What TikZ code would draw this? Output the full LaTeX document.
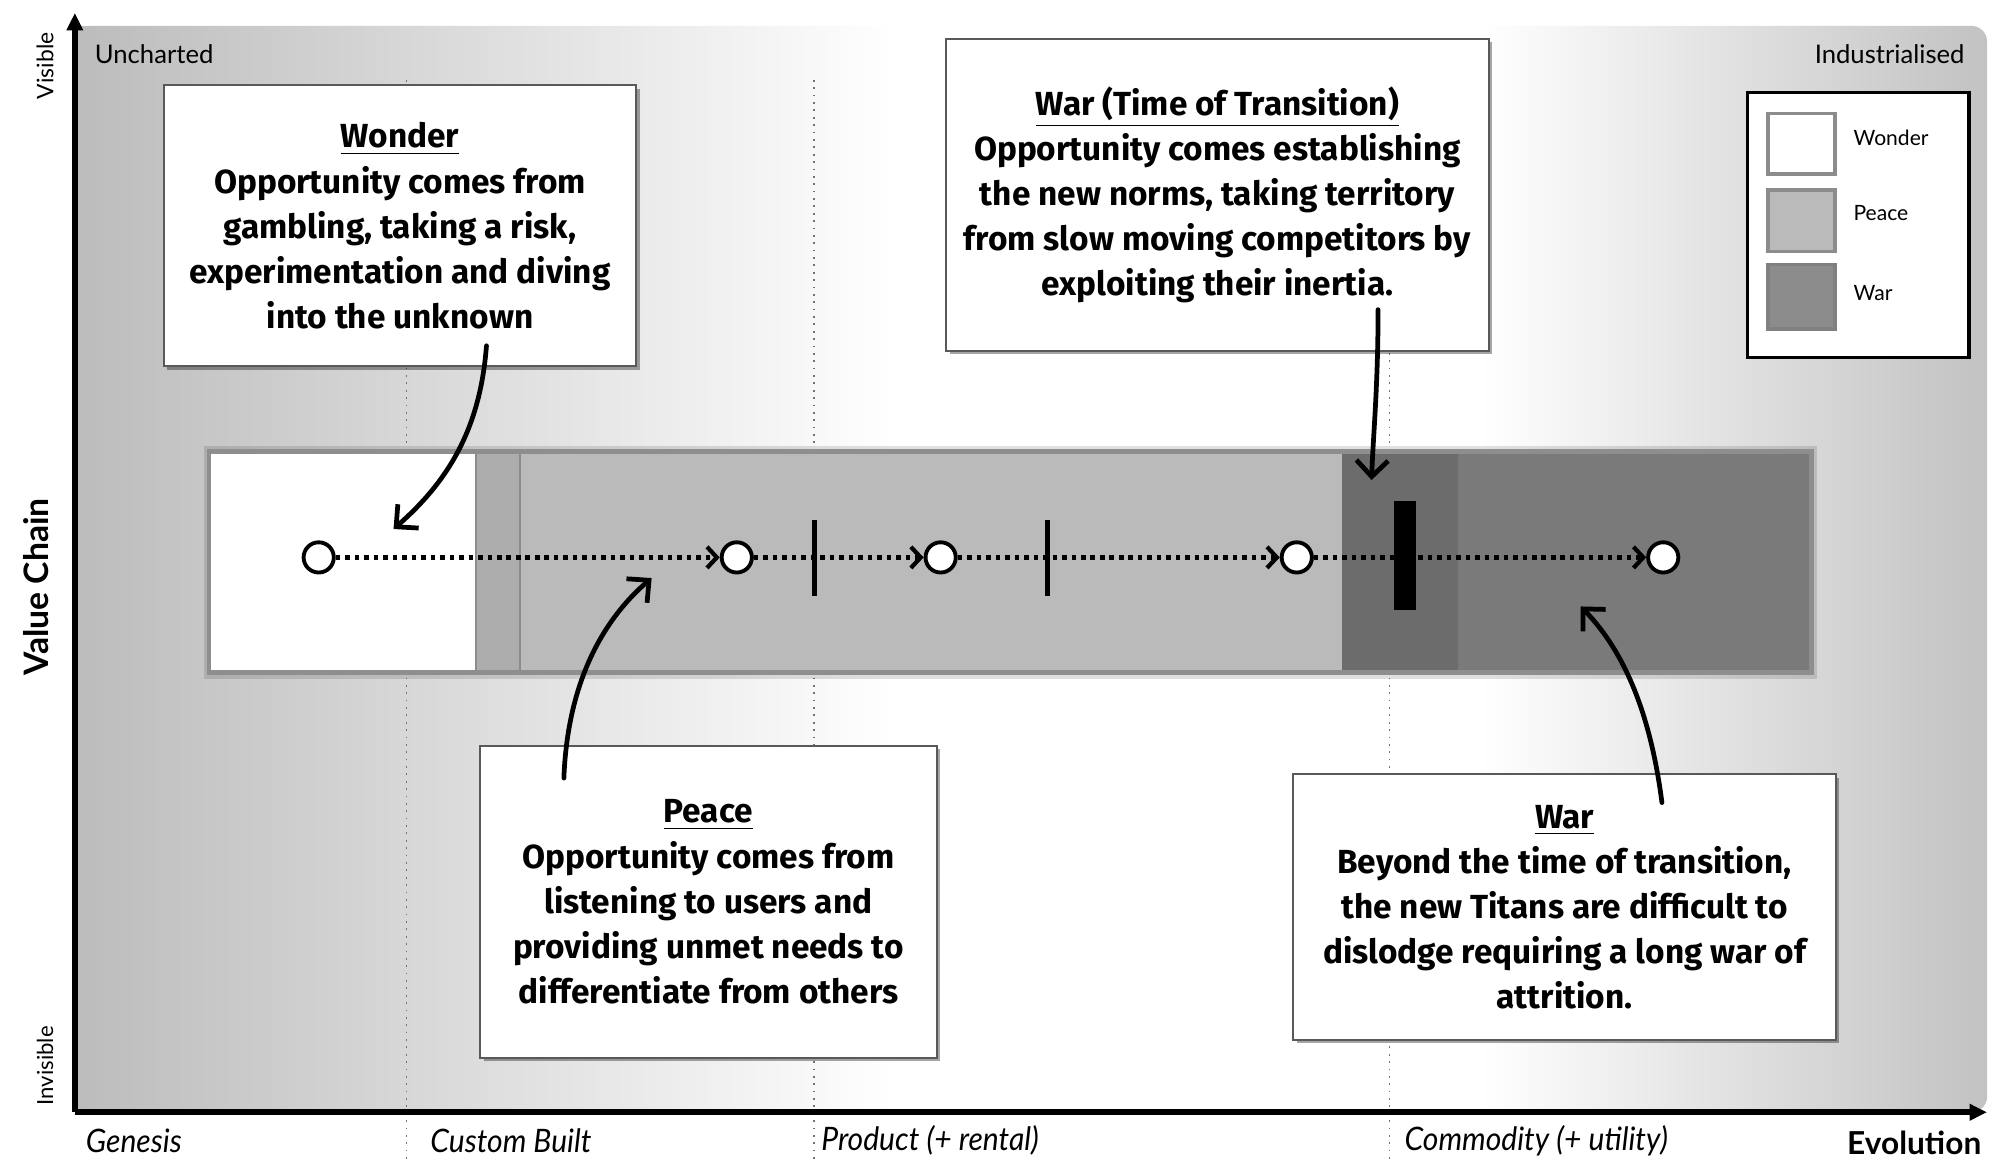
\documentclass[tikz,border=0pt]{standalone}
\usepackage{fontspec}
\setmainfont{Lato}
\newfontfamily\comic{Fira Sans}
\newfontfamily\gillc{Lato}[FakeStretch=0.93]
\usetikzlibrary{arrows.meta,shadows}
\definecolor{bgL}{HTML}{B9B9B9}
\definecolor{bgR}{HTML}{C2C2C2}
\definecolor{peaceC}{HTML}{BABABA}
\definecolor{bandC}{HTML}{ADADAD}
\definecolor{warTC}{HTML}{6C6C6C}
\definecolor{warC}{HTML}{7A7A7A}
\definecolor{barEdge}{HTML}{8E8E8E}
\pgfdeclarehorizontalshading{bgshade}{100bp}{color(0bp)=(bgL); color(25bp)=(bgL); color(47bp)=(white); color(62bp)=(white); color(75bp)=(bgR); color(100bp)=(bgR)}
\begin{document}
\begin{tikzpicture}[x=0.012903cm,y=-0.012903cm,
  axisline/.style={line width=1.6pt,-{Triangle[length=5pt,width=4.5pt]}},
  gridline/.style={line width=0.45pt,black!55,dash pattern=on 0.5pt off 1.6pt},
  textbox/.style={draw=black!65,line width=0.5pt,fill=white,inner sep=0pt,align=center,
     drop shadow={shadow xshift=1pt,shadow yshift=-1pt,opacity=0.35,fill=black},
     font=\comic\bfseries\fontsize{9.5}{12.85}\selectfont},
  stage/.style={circle,draw,line width=1.1pt,fill=white,minimum size=8.6pt,inner sep=0pt},
  dotarrow/.style={line width=1.2pt,dash pattern=on 1.3pt off 1.4pt,
     -{Straight Barb[length=2.8pt,width=6pt]}},
  curvarrow/.style={line width=1.35pt,line cap=round,-{Straight Barb[length=4.6pt,width=9pt]}},
  swatch/.style={draw=black!45,line width=1.1pt,minimum width=19.1pt,inner sep=0pt},
  lbl/.style={inner sep=0pt,font=\fontsize{7.3}{8}\selectfont},
  evo/.style={inner sep=0pt,font=\gillc\itshape\fontsize{9.2}{10}\selectfont},
  ]
\useasboundingbox (0,0) rectangle (1550,899);
% background
\begin{scope}
  \clip (60,0) rectangle (1560,899);
  \shade[shading=bgshade,rounded corners=4.5pt] (30,20) rectangle (1540,862);
\end{scope}
% grid lines
\foreach \gx in {315,631,1077} \draw[gridline] (\gx,62) -- (\gx,900);
% axes
\coordinate (origin) at (58,862);
\coordinate (ytop) at (58,10);
\coordinate (xend) at (1540,862);
\draw[axisline] (origin) -- (ytop);
\draw[axisline] (origin) -- (xend);
% axis labels
\node[lbl,rotate=90,font=\fontsize{6.5}{7}\selectfont] (visible) at (35,51) {Visible};
\node[lbl,rotate=90,font=\fontsize{6.3}{7}\selectfont] (invisible) at (35,826) {Invisible};
\node[lbl,rotate=90,font=\bfseries\fontsize{9.6}{10}\selectfont] (vchain) at (28,455) {Value Chain};
\node[lbl,anchor=west] (unch) at (73,42) {Uncharted};
\node[lbl,anchor=east] (indus) at (1523,42) {Industrialised};
\node[evo,anchor=west] (gen) at (66,884) {Genesis};
\node[evo,anchor=west] (cust) at (333,884) {Custom Built};
\node[evo,anchor=west] (prod) at (636,884) {Product (+ rental)};
\node[evo,anchor=west] (comm) at (1088,884) {Commodity (+ utility)};
\node[lbl,anchor=east,font=\bfseries\fontsize{9}{10}\selectfont] (evol) at (1536,886) {Evolution};
% main bar
\fill[black,opacity=0.12] (158,346) rectangle (1408,526);
\fill[white] (161,349) rectangle (369,522);
\fill[bandC] (369,349) rectangle (403,522);
\fill[peaceC] (403,349) rectangle (1040,522);
\fill[warTC] (1040,349) rectangle (1130,522);
\fill[warC] (1130,349) rectangle (1405,522);
\draw[black!45,line width=0.6pt] (369,351) -- (369,520) (403,351) -- (403,520);
\draw[barEdge,line width=1.3pt] (162,350) rectangle (1404,521);
% stages
\node[stage] (c1) at (247,432) {};
\node[stage] (c2) at (571,432) {};
\node[stage] (c3) at (729,432) {};
\node[stage] (c4) at (1005,432) {};
\node[stage] (c5) at (1289,432) {};
\draw[dotarrow] (c1) -- (c2);
\draw[dotarrow] (c2) -- (c3);
\draw[dotarrow] (c3) -- (c4);
\draw[dotarrow] (c4) -- (c5);
% markers
\fill[black] (629,403) rectangle (633,462);
\fill[black] (810,403) rectangle (814,462);
\fill[black] (1080,388) rectangle (1097,473);
% text boxes
\node[textbox,minimum width=134.4pt,minimum height=80pt] (wonderbox) at (310,175)
 {\underline{Wonder}\\Opportunity comes from\\gambling, taking a risk,\\experimentation and diving\\into the unknown};
\node[textbox,minimum width=154.5pt,minimum height=88.8pt] (wartbox) at (943.5,151)
 {\underline{War (Time of Transition)}\\Opportunity comes establishing\\the new norms, taking territory\\from slow moving competitors by\\exploiting their inertia.};
\node[textbox,minimum width=130pt,minimum height=88.8pt] (peacebox) at (549,699)
 {\underline{Peace}\\Opportunity comes from\\listening to users and\\providing unmet needs to\\differentiate from others};
\node[textbox,minimum width=154.5pt,minimum height=75.6pt] (warbox) at (1212.5,703)
 {\underline{War}\\Beyond the time of transition,\\the new Titans are difficult to\\dislodge requiring a long war of\\attrition.};
% curved arrows
\coordinate (wS) at (377,268); \coordinate (wE) at (305,410);
\coordinate (pS) at (437,603); \coordinate (pE) at (505,448);
\coordinate (tS) at (1068,240); \coordinate (tE) at (1063,372);
\coordinate (vS) at (1288,622); \coordinate (vE) at (1225,470);
\draw[curvarrow] (wS) .. controls (372,335) and (345,375) .. (wE);
\draw[curvarrow] (pS) .. controls (440,525) and (470,478) .. (pE);
\draw[curvarrow] (tS) .. controls (1068,300) and (1064,340) .. (tE);
\draw[curvarrow] (vS) .. controls (1280,560) and (1262,508) .. (vE);
% legend
\node[draw=black,line width=0.9pt,fill=white,minimum width=63.1pt,minimum height=75.3pt,inner sep=0pt] (legend) at (1440,174.5) {};
\node[swatch,fill=white,minimum height=17.3pt] (swW) at (1396,111.5) {};
\node[swatch,fill=peaceC,minimum height=17.6pt] (swP) at (1396,171) {};
\node[swatch,fill=black!45,draw=black!50,minimum height=18.4pt] (swR) at (1396,230) {};
\node[lbl,anchor=west,font=\fontsize{6}{7}\selectfont] (lW) at (1436,107) {Wonder};
\node[lbl,anchor=west,font=\fontsize{6}{7}\selectfont] (lP) at (1436,165) {Peace};
\node[lbl,anchor=west,font=\fontsize{6}{7}\selectfont] (lR) at (1436,227) {War};
\end{tikzpicture}
\end{document}
